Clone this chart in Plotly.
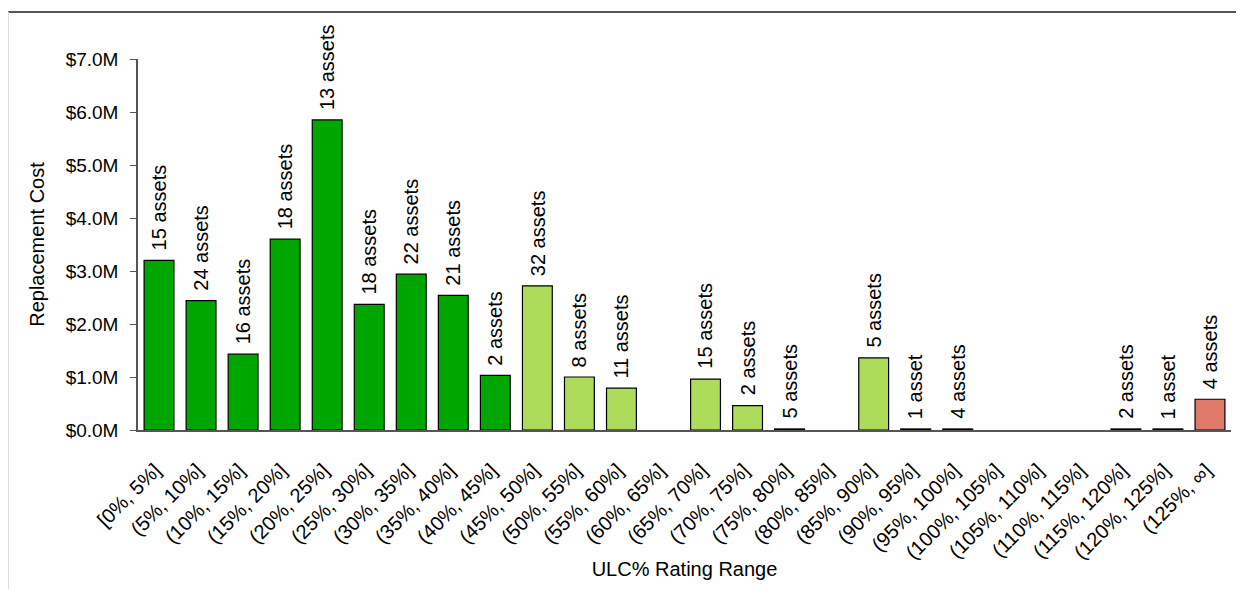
import plotly.graph_objects as go

categories = [
    "[0%, 5%]", "(5%, 10%]", "(10%, 15%]", "(15%, 20%]", "(20%, 25%]",
    "(25%, 30%]", "(30%, 35%]", "(35%, 40%]", "(40%, 45%]", "(45%, 50%]",
    "(50%, 55%]", "(55%, 60%]", "(60%, 65%]", "(65%, 70%]", "(70%, 75%]",
    "(75%, 80%]", "(80%, 85%]", "(85%, 90%]", "(90%, 95%]", "(95%, 100%]",
    "(100%, 105%]", "(105%, 110%]", "(110%, 115%]", "(115%, 120%]",
    "(120%, 125%]", "(125%, ∞]",
]
# replacement cost in $M (None = no assets in range)
cost_m = [
    3.20, 2.44, 1.43, 3.60, 5.85, 2.37, 2.94, 2.54, 1.03, 2.72,
    1.00, 0.79, None, 0.96, 0.46, 0.02, None, 1.36, 0.02, 0.02,
    None, None, None, 0.02, 0.02, 0.58,
]
asset_counts = [
    15, 24, 16, 18, 13, 18, 22, 21, 2, 32,
    8, 11, 0, 15, 2, 5, 0, 5, 1, 4,
    0, 0, 0, 2, 1, 4,
]
bands = ["good"] * 9 + ["fair"] * 9 + ["poor"] * 7 + ["over"]
y_ticks = [0, 1, 2, 3, 4, 5, 6, 7]

band_colors = {"good": "#00A600", "fair": "#ADDB5A", "poor": "#E6C84A", "over": "#E27A6A"}
FONT = "Liberation Sans, Arial, sans-serif"

fig = go.Figure(
    go.Bar(
        x=categories,
        y=cost_m,
        marker=dict(
            color=[band_colors[b] for b in bands],
            line=dict(color="#000000", width=1.2),
        ),
        cliponaxis=False,
        hovertemplate="%{x}<br>$%{y:.2f}M<extra></extra>",
        showlegend=False,
    )
)

for cat, val, n in zip(categories, cost_m, asset_counts):
    if val is None or n == 0:
        continue
    fig.add_annotation(
        x=cat,
        y=val,
        text=f"{n} asset" if n == 1 else f"{n} assets",
        textangle=-90,
        showarrow=False,
        xanchor="center",
        yanchor="bottom",
        yshift=8,
        font=dict(family=FONT, size=20, color="#000000"),
    )

# outer frame of the original panel
fig.add_shape(type="line", xref="paper", yref="paper",
              x0=-0.119, x1=1.02, y0=1.127, y1=1.127,
              line=dict(color="#555555", width=2))
fig.add_shape(type="line", xref="paper", yref="paper",
              x0=-0.1185, x1=-0.1185, y0=1.127, y1=-0.45,
              line=dict(color="#dddddd", width=1))

# invisible x ticks push the slanted labels down; a trailing nbsp nudges them left
fig.update_xaxes(
    title=dict(text="ULC% Rating Range", font=dict(family=FONT, size=20), standoff=0),
    tickangle=-45,
    tickmode="array",
    tickvals=categories,
    ticktext=[c + "\u00a0" for c in categories],
    tickfont=dict(family=FONT, size=20, color="#000000"),
    ticks="outside",
    ticklen=15,
    tickcolor="rgba(0,0,0,0)",
    showline=True,
    linecolor="#555555",
    linewidth=1.5,
    showgrid=False,
    automargin=False,
)
fig.update_yaxes(
    title=dict(text="Replacement Cost", font=dict(family=FONT, size=20), standoff=16),
    range=[0, 7],
    tickmode="array",
    tickvals=y_ticks,
    ticktext=[f"${v:.1f}M" for v in y_ticks],
    tickfont=dict(family=FONT, size=19, color="#000000"),
    ticklabelstandoff=8,
    showline=True,
    linecolor="#555555",
    linewidth=1.5,
    ticks="outside",
    ticklen=6,
    tickcolor="#555555",
    showgrid=False,
    zeroline=False,
    automargin=False,
)

# page body adds an 8px margin, so the figure is 8px smaller and shifted
fig.update_layout(
    width=1236,
    height=581,
    plot_bgcolor="white",
    paper_bgcolor="white",
    bargap=0.29,
    margin=dict(l=130, r=13, t=51, b=159),
    font=dict(family=FONT, color="#000000"),
)

fig.write_html("out.html")
